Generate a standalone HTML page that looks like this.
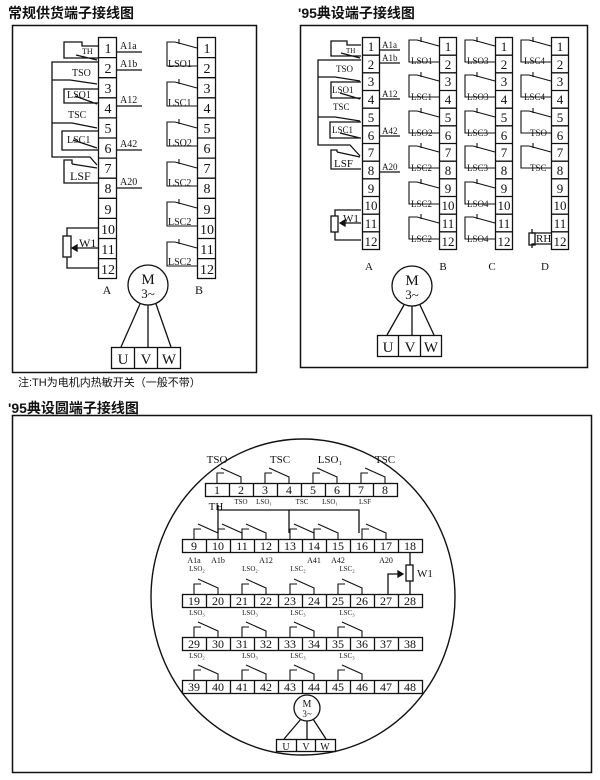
<!DOCTYPE html>
<html><head><meta charset="utf-8"><style>
body{margin:0;background:#fff;width:600px;height:780px;overflow:hidden}
svg{display:block}
.t{font-family:"Liberation Serif","Noto Serif CJK SC",serif;fill:#111}
.c{font-family:"Liberation Sans","Noto Sans CJK SC",sans-serif;fill:#111}
</style></head><body>
<svg width="600" height="780" viewBox="0 0 600 780" xmlns="http://www.w3.org/2000/svg">
<defs>
<g id="swB"><path d="M0,0 L-22,-6 M-18,-4 L-18,-9 M-22,-6 H-30 V18 H0" fill="none" stroke="#111" stroke-width="1.1"/></g>
<g id="swB2"><path d="M0,0 L-22,-6 M-18,-4 L-18,-9 M-22,-6 H-30 V16 H0" fill="none" stroke="#111" stroke-width="1.1"/></g>
<g id="cs"><path d="M0,0 V-10 H7 M4,-15 L24,-6 V0" fill="none" stroke="#111" stroke-width="1.1"/></g>
<g id="strip2" fill="none" stroke="#111" stroke-width="1.3"><rect x="0.5" y="37.5" width="17" height="212"/>
<path d="M0.5,55.2H17.5M0.5,72.8H17.5M0.5,90.5H17.5M0.5,108.2H17.5M0.5,125.8H17.5M0.5,143.5H17.5M0.5,161.2H17.5M0.5,178.8H17.5M0.5,196.5H17.5M0.5,214.2H17.5M0.5,231.8H17.5"/></g>
<g id="crow" fill="none" stroke="#111" stroke-width="1.3"><rect x="182.5" y="0.5" width="240" height="13"/>
<path d="M206.5,0.5v13M230.5,0.5v13M254.5,0.5v13M278.5,0.5v13M302.5,0.5v13M326.5,0.5v13M350.5,0.5v13M374.5,0.5v13M398.5,0.5v13"/></g>
</defs>
<text x="8" y="18" class="c" font-size="14" font-weight="bold">常规供货端子接线图</text>
<text x="298" y="18" class="c" font-size="14" font-weight="bold">'95典设端子接线图</text>
<text x="18" y="386" class="c" font-size="11">注:TH为电机内热敏开关（一般不带）</text>
<text x="8" y="413" class="c" font-size="14" font-weight="bold">'95典设圆端子接线图</text>

<!-- BOX 1 -->
<rect x="12.5" y="25.5" width="244" height="347" fill="none" stroke="#111" stroke-width="1.5"/>
<g fill="none" stroke="#111" stroke-width="1.3">
<rect x="98.5" y="37.5" width="18" height="241"/>
<path d="M98.5,57.6H116.5M98.5,77.7H116.5M98.5,97.8H116.5M98.5,117.9H116.5M98.5,138H116.5M98.5,158.1H116.5M98.5,178.2H116.5M98.5,198.3H116.5M98.5,218.4H116.5M98.5,238.5H116.5M98.5,258.6H116.5"/>
<rect x="197.5" y="37.5" width="18" height="241"/>
<path d="M197.5,57.6H215.5M197.5,77.7H215.5M197.5,97.8H215.5M197.5,117.9H215.5M197.5,138H215.5M197.5,158.1H215.5M197.5,178.2H215.5M197.5,198.3H215.5M197.5,218.4H215.5M197.5,238.5H215.5M197.5,258.6H215.5"/>
<path d="M117,52H142M117,70H142M117,106H142M117,150H142M117,188H142"/>
<path d="M98,46H82V42H64V58H98 M76,55L97,60"/>
<path d="M98,62H52V157H90L97,165"/>
<path d="M70,80L97,84 M52,80H70"/>
<path d="M98,89H64V103H98 M75,96L97,104"/>
<path d="M52,123H72L97,128"/>
<path d="M98,131H62V150H98 M73,140L97,148"/>
<path d="M72,164L97,168 M72,164V160H64V183H98"/>
<path d="M98,228H67V236 M67,257V268H98 M98,248H72"/>
<rect x="63" y="236" width="8" height="21"/>
<path d="M72,248l5,-3v6z" fill="#111"/>
<circle cx="148" cy="285" r="20"/>
<path d="M140,304L121,347M148,305V347M156,304L171,347"/>
<rect x="111.5" y="347.5" width="69" height="21"/>
<path d="M134.5,347.5V368.5M157.5,347.5V368.5"/>
</g>
<g class="t" font-size="14" text-anchor="middle">
<text x="108" y="53">1</text><text x="108" y="73">2</text><text x="108" y="93">3</text><text x="108" y="113">4</text><text x="108" y="133">5</text><text x="108" y="153">6</text><text x="108" y="173">7</text><text x="108" y="193">8</text><text x="108" y="214">9</text><text x="108" y="234">10</text><text x="108" y="254">11</text><text x="108" y="274">12</text>
<text x="207" y="53">1</text><text x="207" y="73">2</text><text x="207" y="93">3</text><text x="207" y="113">4</text><text x="207" y="133">5</text><text x="207" y="153">6</text><text x="207" y="173">7</text><text x="207" y="193">8</text><text x="207" y="214">9</text><text x="207" y="234">10</text><text x="207" y="254">11</text><text x="207" y="274">12</text>
<text x="107" y="294" font-size="12">A</text><text x="199" y="294" font-size="12">B</text>
<text x="148" y="284" font-size="15">M</text><text x="148" y="298" font-size="13">3~</text>
<text x="123" y="364" font-size="15">U</text><text x="146" y="364" font-size="15">V</text><text x="169" y="364" font-size="15">W</text>
</g>
<g class="t" font-size="10">
<text x="120" y="49">A1a</text><text x="120" y="67">A1b</text><text x="120" y="103">A12</text><text x="120" y="147">A42</text><text x="120" y="185">A20</text>
<text x="82" y="54" font-size="8">TH</text><text x="72" y="76">TSO</text><text x="67" y="98">LSO1</text><text x="68" y="118">TSC</text><text x="67" y="143">LSC1</text><text x="70" y="180" font-size="12">LSF</text><text x="79" y="247" font-size="12">W1</text>
</g>
<g>
<use href="#swB" x="197" y="48"/><use href="#swB" x="197" y="88"/><use href="#swB" x="197" y="128"/><use href="#swB" x="197" y="168"/><use href="#swB" x="197" y="208"/><use href="#swB" x="197" y="248"/>
</g>
<g class="t" font-size="10">
<text x="168" y="67">LSO1</text><text x="168" y="106">LSC1</text><text x="168" y="146">LSO2</text><text x="168" y="186">LSC2</text><text x="168" y="225">LSC2</text><text x="168" y="265">LSC2</text>
</g>

<!-- BOX 2 -->
<rect x="300.5" y="25.5" width="287" height="342" fill="none" stroke="#111" stroke-width="1.5"/>
<use href="#strip2" x="362"/><use href="#strip2" x="439"/><use href="#strip2" x="495"/><use href="#strip2" x="551"/>
<g fill="none" stroke="#111" stroke-width="1.3">
<path d="M380,50H400M380,63H400M380,99H400M380,136H400M380,172H400"/>
<path d="M361,45H347V41H331V56H361 M341,53L360,58"/>
<path d="M361,60H318V145H350L360,156"/>
<path d="M318,77H335L360,81"/>
<path d="M361,82H331V98H361 M340,93L360,99"/>
<path d="M318,117H335L360,121"/>
<path d="M361,122H330V138H361 M340,133L360,138"/>
<path d="M337,152L360,157 M337,152V150H331V169H361"/>
<path d="M361,210H335V216 M335,232V240H361 M361,223H340"/>
<rect x="331" y="216" width="7" height="16"/>
<path d="M340,223l5,-3v6z" fill="#111"/>
<path d="M551,244H532V248 M532,229V233H551"/><rect x="529" y="233" width="6" height="12"/>
<circle cx="412" cy="286" r="20"/>
<path d="M404,305L387,335M412,306V335M420,305L434,335"/>
<rect x="377.5" y="335.5" width="64" height="21"/>
<path d="M398.5,335.5V356.5M420.5,335.5V356.5"/>
</g>
<g>
<use href="#swB2" x="439" y="46"/><use href="#swB2" x="439" y="81"/><use href="#swB2" x="439" y="117"/><use href="#swB2" x="439" y="152"/><use href="#swB2" x="439" y="188"/><use href="#swB2" x="439" y="223"/>
<use href="#swB2" x="495" y="46"/><use href="#swB2" x="495" y="81"/><use href="#swB2" x="495" y="117"/><use href="#swB2" x="495" y="152"/><use href="#swB2" x="495" y="188"/><use href="#swB2" x="495" y="223"/>
<use href="#swB2" x="551" y="46"/><use href="#swB2" x="551" y="81"/><use href="#swB2" x="551" y="117"/><use href="#swB2" x="551" y="152"/>
</g>
<g class="t" font-size="13" text-anchor="middle">
<text x="371" y="51">1</text><text x="371" y="69">2</text><text x="371" y="86">3</text><text x="371" y="104">4</text><text x="371" y="122">5</text><text x="371" y="140">6</text><text x="371" y="157">7</text><text x="371" y="175">8</text><text x="371" y="193">9</text><text x="371" y="210">10</text><text x="371" y="228">11</text><text x="371" y="246">12</text>
<text x="448" y="51">1</text><text x="448" y="69">2</text><text x="448" y="86">3</text><text x="448" y="104">4</text><text x="448" y="122">5</text><text x="448" y="140">6</text><text x="448" y="157">7</text><text x="448" y="175">8</text><text x="448" y="193">9</text><text x="448" y="210">10</text><text x="448" y="228">11</text><text x="448" y="246">12</text>
<text x="504" y="51">1</text><text x="504" y="69">2</text><text x="504" y="86">3</text><text x="504" y="104">4</text><text x="504" y="122">5</text><text x="504" y="140">6</text><text x="504" y="157">7</text><text x="504" y="175">8</text><text x="504" y="193">9</text><text x="504" y="210">10</text><text x="504" y="228">11</text><text x="504" y="246">12</text>
<text x="560" y="51">1</text><text x="560" y="69">2</text><text x="560" y="86">3</text><text x="560" y="104">4</text><text x="560" y="122">5</text><text x="560" y="140">6</text><text x="560" y="157">7</text><text x="560" y="175">8</text><text x="560" y="193">9</text><text x="560" y="210">10</text><text x="560" y="228">11</text><text x="560" y="246">12</text>
<text x="369" y="270" font-size="11">A</text><text x="443" y="270" font-size="11">B</text><text x="492" y="270" font-size="11">C</text><text x="545" y="270" font-size="11">D</text>
<text x="412" y="285" font-size="15">M</text><text x="412" y="299" font-size="13">3~</text>
<text x="388" y="352" font-size="15">U</text><text x="410" y="352" font-size="15">V</text><text x="431" y="352" font-size="15">W</text>
</g>
<g class="t" font-size="9">
<text x="382" y="48">A1a</text><text x="382" y="61">A1b</text><text x="382" y="97">A12</text><text x="382" y="134">A42</text><text x="382" y="170">A20</text>
<text x="346" y="53" font-size="7">TH</text><text x="336" y="72">TSO</text><text x="332" y="93">LSO1</text><text x="333" y="110">TSC</text><text x="332" y="133">LSC1</text><text x="334" y="167" font-size="11">LSF</text><text x="343" y="222" font-size="11">W1</text>
<text x="411" y="64">LSO1</text><text x="411" y="100">LSC1</text><text x="411" y="136">LSO2</text><text x="411" y="171">LSC2</text><text x="411" y="207">LSC2</text><text x="411" y="242">LSC2</text>
<text x="467" y="64">LSO3</text><text x="467" y="100">LSO3</text><text x="467" y="136">LSC3</text><text x="467" y="171">LSC3</text><text x="467" y="207">LSO4</text><text x="467" y="242">LSO4</text>
<text x="524" y="64">LSC4</text><text x="524" y="100">LSC4</text><text x="530" y="136">TSO</text><text x="530" y="171">TSC</text><text x="536" y="242" font-size="11">RH</text>
</g>

<!-- BOX 3 -->
<rect x="12.5" y="415.5" width="579" height="357" fill="none" stroke="#111" stroke-width="1.5"/>
<ellipse cx="303" cy="597" rx="152" ry="158" fill="none" stroke="#111" stroke-width="1.4"/>
<g fill="none" stroke="#111" stroke-width="1.3">
<rect x="205.5" y="483.5" width="192" height="13"/>
<path d="M229.5,483.5v13M253.5,483.5v13M277.5,483.5v13M301.5,483.5v13M325.5,483.5v13M349.5,483.5v13M373.5,483.5v13"/>
</g>
<use href="#crow" y="539"/><use href="#crow" y="594"/><use href="#crow" y="637"/><use href="#crow" y="680"/>
<g fill="none" stroke="#111" stroke-width="1.3">
<path d="M218,533V510H359V533 M289,510V533 M218,510V505"/>
<path d="M410,553V565 M410,581V594 M388,594V574H403"/><rect x="406" y="565" width="7" height="16"/>
<path d="M403,574l-5,-3v6z" fill="#111"/>
<circle cx="307" cy="708" r="13"/>
<path d="M301,719L284,739M307,721V739M313,719L326,739"/>
<rect x="276.5" y="739.5" width="59" height="12"/>
<path d="M296.5,739.5v12M315.5,739.5v12"/>
</g>
<g>
<use href="#cs" x="217" y="483"/><use href="#cs" x="265" y="483"/><use href="#cs" x="313" y="483"/><use href="#cs" x="361" y="483"/>
<use href="#cs" x="194" y="539"/><use href="#cs" x="218" y="539"/><use href="#cs" x="242" y="539"/><use href="#cs" x="290" y="539"/><use href="#cs" x="314" y="539"/><use href="#cs" x="362" y="539"/>
<use href="#cs" x="194" y="594"/><use href="#cs" x="242" y="594"/><use href="#cs" x="290" y="594"/><use href="#cs" x="338" y="594"/>
<use href="#cs" x="194" y="637"/><use href="#cs" x="242" y="637"/><use href="#cs" x="290" y="637"/><use href="#cs" x="338" y="637"/>
<use href="#cs" x="194" y="680"/><use href="#cs" x="242" y="680"/><use href="#cs" x="290" y="680"/><use href="#cs" x="338" y="680"/>
</g>
<g class="t" font-size="12" text-anchor="middle">
<text x="217" y="494">1</text><text x="241" y="494">2</text><text x="265" y="494">3</text><text x="289" y="494">4</text><text x="313" y="494">5</text><text x="337" y="494">6</text><text x="361" y="494">7</text><text x="385" y="494">8</text>
<text x="194" y="550">9</text><text x="218" y="550">10</text><text x="242" y="550">11</text><text x="266" y="550">12</text><text x="290" y="550">13</text><text x="314" y="550">14</text><text x="338" y="550">15</text><text x="362" y="550">16</text><text x="386" y="550">17</text><text x="410" y="550">18</text>
<text x="194" y="605">19</text><text x="218" y="605">20</text><text x="242" y="605">21</text><text x="266" y="605">22</text><text x="290" y="605">23</text><text x="314" y="605">24</text><text x="338" y="605">25</text><text x="362" y="605">26</text><text x="386" y="605">27</text><text x="410" y="605">28</text>
<text x="194" y="648">29</text><text x="218" y="648">30</text><text x="242" y="648">31</text><text x="266" y="648">32</text><text x="290" y="648">33</text><text x="314" y="648">34</text><text x="338" y="648">35</text><text x="362" y="648">36</text><text x="386" y="648">37</text><text x="410" y="648">38</text>
<text x="194" y="691">39</text><text x="218" y="691">40</text><text x="242" y="691">41</text><text x="266" y="691">42</text><text x="290" y="691">43</text><text x="314" y="691">44</text><text x="338" y="691">45</text><text x="362" y="691">46</text><text x="386" y="691">47</text><text x="410" y="691">48</text>
<text x="307" y="707" font-size="10">M</text><text x="307" y="717" font-size="9">3~</text>
<text x="286" y="750" font-size="10">U</text><text x="306" y="750" font-size="10">V</text><text x="325" y="750" font-size="10">W</text>
</g>
<g class="t" font-size="11" text-anchor="middle">
<text x="217" y="463">TSO</text><text x="280" y="463">TSC</text><text x="330" y="463">LSO₁</text><text x="385" y="463">TSC</text>
<text x="216" y="510">TH</text><text x="425" y="577">W1</text>
</g>
<g class="t" font-size="7" text-anchor="middle">
<text x="241" y="504">TSO</text><text x="264" y="504">LSO₁</text><text x="302" y="504">TSC</text><text x="330" y="504">LSO₁</text><text x="365" y="504">LSF</text>
<text x="194" y="563" font-size="8">A1a</text><text x="218" y="563" font-size="8">A1b</text><text x="266" y="563" font-size="8">A12</text><text x="314" y="563" font-size="8">A41</text><text x="338" y="563" font-size="8">A42</text><text x="386" y="563" font-size="8">A20</text>
<text x="197" y="571">LSO₂</text><text x="250" y="571">LSO₂</text><text x="298" y="571">LSC₂</text><text x="347" y="571">LSC₂</text>
<text x="197" y="615">LSO₃</text><text x="250" y="615">LSO₃</text><text x="298" y="615">LSC₃</text><text x="347" y="615">LSC₃</text>
<text x="197" y="658">LSO₂</text><text x="250" y="658">LSO₃</text><text x="298" y="658">LSC₃</text><text x="347" y="658">LSC₃</text>
</g>
</svg>
</body></html>
